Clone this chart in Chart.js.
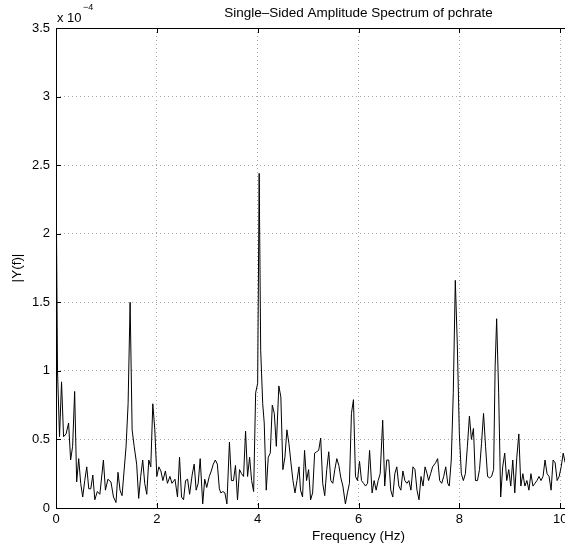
<!DOCTYPE html>
<html>
<head>
<meta charset="utf-8">
<script src="https://cdn.jsdelivr.net/npm/chart.js@4/dist/chart.umd.min.js"></script>
<style>
  html, body { margin: 0; padding: 0; background: #fff; overflow: hidden; }
  canvas { display: block; }
</style>
</head>
<body>
<canvas id="spectrum" width="690" height="546"></canvas>
<script>
// spectrum (amplitude in units of 1e-4)
const freqHz = [
  0, 0.03, 0.07, 0.11, 0.15, 0.20, 0.25, 0.29, 0.33, 0.37,
  0.41, 0.45, 0.49, 0.53, 0.57, 0.61, 0.65, 0.69, 0.73, 0.77,
  0.82, 0.87, 0.94, 0.98, 1.03, 1.09, 1.14, 1.19, 1.23, 1.27,
  1.31, 1.35, 1.39, 1.43, 1.47, 1.51, 1.55, 1.60, 1.64, 1.68,
  1.72, 1.76, 1.80, 1.84, 1.88, 1.92, 1.96, 2.00, 2.04, 2.08,
  2.12, 2.17, 2.21, 2.26, 2.30, 2.36, 2.41, 2.45, 2.49, 2.53,
  2.57, 2.61, 2.65, 2.70, 2.74, 2.78, 2.82, 2.86, 2.91, 2.95,
  2.99, 3.04, 3.08, 3.12, 3.16, 3.20, 3.24, 3.27, 3.31, 3.35,
  3.39, 3.44, 3.48, 3.52, 3.56, 3.60, 3.64, 3.68, 3.72, 3.76,
  3.80, 3.84, 3.88, 3.92, 3.96, 4.00, 4.03, 4.06, 4.10, 4.13,
  4.17, 4.21, 4.25, 4.29, 4.33, 4.37, 4.42, 4.46, 4.50, 4.54,
  4.58, 4.62, 4.66, 4.70, 4.74, 4.78, 4.82, 4.85, 4.89, 4.93,
  4.97, 5.01, 5.05, 5.09, 5.13, 5.17, 5.21, 5.25, 5.29, 5.33,
  5.37, 5.41, 5.45, 5.49, 5.53, 5.57, 5.61, 5.65, 5.69, 5.74,
  5.78, 5.82, 5.86, 5.90, 5.94, 5.98, 6.02, 6.06, 6.10, 6.14,
  6.18, 6.22, 6.27, 6.31, 6.35, 6.39, 6.43, 6.48, 6.52, 6.56,
  6.60, 6.64, 6.68, 6.72, 6.76, 6.80, 6.84, 6.88, 6.92, 6.96,
  7.00, 7.04, 7.08, 7.12, 7.16, 7.20, 7.24, 7.28, 7.32, 7.36,
  7.39, 7.43, 7.47, 7.53, 7.57, 7.61, 7.65, 7.69, 7.73, 7.77,
  7.80, 7.84, 7.88, 7.92, 7.96, 8.00, 8.04, 8.08, 8.12, 8.16,
  8.20, 8.24, 8.28, 8.32, 8.36, 8.40, 8.44, 8.48, 8.52, 8.56,
  8.60, 8.64, 8.68, 8.71, 8.74, 8.78, 8.82, 8.86, 8.90, 8.94,
  8.98, 9.02, 9.06, 9.10, 9.14, 9.18, 9.22, 9.26, 9.30, 9.34,
  9.38, 9.42, 9.46, 9.50, 9.54, 9.58, 9.62, 9.66, 9.70, 9.74,
  9.78, 9.82, 9.86, 9.90, 9.94, 9.98, 10.02, 10.06, 10.10
];
const ampE4 = [
  2.52, 1.00, 0.52, 0.92, 0.52, 0.54, 0.62, 0.35, 0.45, 0.85,
  0.19, 0.36, 0.18, 0.08, 0.20, 0.30, 0.14, 0.14, 0.24, 0.06,
  0.12, 0.10, 0.35, 0.13, 0.21, 0.19, 0.08, 0.04, 0.26, 0.13,
  0.09, 0.27, 0.45, 0.76, 1.50, 0.57, 0.45, 0.32, 0.07, 0.23,
  0.35, 0.18, 0.10, 0.35, 0.30, 0.76, 0.57, 0.23, 0.30, 0.27,
  0.20, 0.27, 0.18, 0.23, 0.18, 0.21, 0.08, 0.37, 0.08, 0.06,
  0.20, 0.21, 0.10, 0.24, 0.32, 0.13, 0.18, 0.36, 0.03, 0.21,
  0.15, 0.23, 0.27, 0.32, 0.35, 0.32, 0.14, 0.11, 0.12, 0.11,
  0.03, 0.48, 0.20, 0.20, 0.31, 0.06, 0.28, 0.25, 0.23, 0.56,
  0.23, 0.37, 0.20, 0.12, 0.84, 0.91, 2.44, 1.15, 0.76, 0.62,
  0.13, 0.37, 0.40, 0.75, 0.69, 0.45, 0.89, 0.81, 0.28, 0.37,
  0.57, 0.47, 0.33, 0.20, 0.11, 0.20, 0.30, 0.13, 0.08, 0.42,
  0.20, 0.28, 0.06, 0.11, 0.40, 0.41, 0.42, 0.51, 0.18, 0.09,
  0.28, 0.41, 0.20, 0.18, 0.28, 0.36, 0.31, 0.22, 0.16, 0.03,
  0.11, 0.18, 0.69, 0.79, 0.23, 0.20, 0.34, 0.20, 0.18, 0.16,
  0.18, 0.42, 0.11, 0.20, 0.13, 0.20, 0.25, 0.64, 0.16, 0.35,
  0.35, 0.13, 0.08, 0.25, 0.30, 0.16, 0.13, 0.27, 0.20, 0.18,
  0.20, 0.13, 0.30, 0.28, 0.13, 0.06, 0.23, 0.16, 0.30, 0.25,
  0.20, 0.25, 0.30, 0.33, 0.36, 0.20, 0.18, 0.23, 0.30, 0.18,
  0.16, 0.35, 0.84, 1.66, 1.19, 0.54, 0.25, 0.20, 0.25, 0.45,
  0.67, 0.50, 0.58, 0.20, 0.20, 0.28, 0.47, 0.69, 0.45, 0.23,
  0.22, 0.23, 0.28, 1.03, 1.38, 0.84, 0.08, 0.30, 0.40, 0.20,
  0.28, 0.16, 0.35, 0.11, 0.37, 0.54, 0.16, 0.25, 0.16, 0.20,
  0.13, 0.25, 0.16, 0.18, 0.20, 0.23, 0.20, 0.23, 0.35, 0.25,
  0.23, 0.13, 0.35, 0.33, 0.20, 0.23, 0.30, 0.40, 0.33
];
const xTicks = [0, 2, 4, 6, 8, 10, 12];
const yTicks = [0, 0.5, 1, 1.5, 2, 2.5, 3, 3.5];

const titleText = 'Single\u2013Sided Amplitude Spectrum of pchrate';
const xLabel = 'Frequency (Hz)';
const yLabel = '|Y(f)|';

const FONT = "'Liberation Sans', Arial, sans-serif";

// matlab-ish box, inward ticks, title and labels
const matlabAxes = {
  id: 'matlabAxes',
  afterDraw(chart) {
    const { ctx, chartArea: a, scales: { x, y } } = chart;
    ctx.save();
    ctx.strokeStyle = '#000';
    ctx.lineWidth = 1;
    ctx.strokeRect(Math.round(a.left) + 0.5, Math.round(a.top) + 0.5,
      Math.round(a.right - a.left), Math.round(a.bottom - a.top));
    ctx.beginPath();
    xTicks.forEach(v => {
      const px = Math.round(x.getPixelForValue(v)) + 0.5;
      ctx.moveTo(px, a.bottom); ctx.lineTo(px, a.bottom - 5);
      ctx.moveTo(px, a.top); ctx.lineTo(px, a.top + 5);
    });
    yTicks.forEach(v => {
      const py = Math.round(y.getPixelForValue(v)) + 0.5;
      ctx.moveTo(a.left, py); ctx.lineTo(a.left + 5, py);
      ctx.moveTo(a.right, py); ctx.lineTo(a.right - 5, py);
    });
    ctx.stroke();

    const cx = (a.left + a.right) / 2;
    ctx.fillStyle = '#000';
    ctx.textAlign = 'center';
    ctx.textBaseline = 'middle';
    ctx.font = '13.5px ' + FONT;
    ctx.fillText(titleText, cx, 13);
    ctx.fillText(xLabel, cx, 536);

    ctx.save();
    ctx.translate(17, (a.top + a.bottom) / 2);
    ctx.rotate(-Math.PI / 2);
    ctx.fillText(yLabel, 0, 0);
    ctx.restore();

    // exponent
    ctx.textAlign = 'left';
    ctx.font = '13px ' + FONT;
    ctx.fillText('x 10', 57, 18);
    ctx.font = '9px ' + FONT;
    ctx.fillText('\u22124', 83, 8);
    ctx.restore();
  }
};

const ctx = document.getElementById('spectrum').getContext('2d');
new Chart(ctx, {
  type: 'line',
  data: {
    datasets: [{
      data: freqHz.map((f, i) => ({ x: f, y: ampE4[i] })),
      borderColor: '#000',
      borderWidth: 1,
      pointRadius: 0,
      tension: 0,
      fill: false
    }]
  },
  options: {
    responsive: false,
    animation: false,
    layout: { padding: { top: 28, right: 29, left: 0, bottom: 0 } },
    plugins: { legend: { display: false }, tooltip: { enabled: false } },
    scales: {
      x: {
        type: 'linear',
        min: 0,
        max: 12,
        afterBuildTicks: s => { s.ticks = xTicks.map(v => ({ value: v })); },
        afterFit: s => { s.height = 38; },
        grid: { color: '#aaa', lineWidth: 1, drawTicks: false },
        border: { display: false, dash: [1, 3] },
        ticks: { color: '#000', padding: 4, font: { family: FONT, size: 13 }, callback: v => String(v) }
      },
      y: {
        min: 0,
        max: 3.5,
        afterBuildTicks: s => { s.ticks = yTicks.map(v => ({ value: v })); },
        afterFit: s => { s.width = 56; },
        grid: { color: '#aaa', lineWidth: 1, drawTicks: false },
        border: { display: false, dash: [1, 3] },
        ticks: { color: '#000', padding: 6, font: { family: FONT, size: 13 }, callback: v => String(v) }
      }
    }
  },
  plugins: [matlabAxes]
});
</script>
</body>
</html>
